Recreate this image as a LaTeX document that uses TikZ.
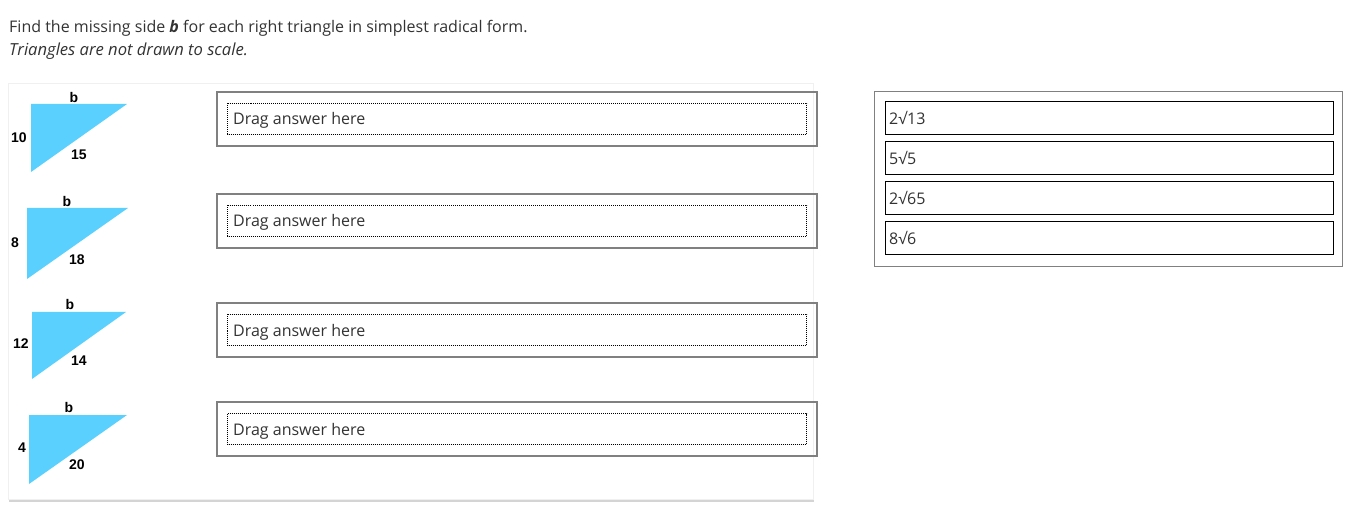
\documentclass[tikz,border=0pt]{standalone}
\usepackage{fontspec}
\setmainfont{Open Sans}
\newfontfamily\labfont{Liberation Sans}
\definecolor{tri}{RGB}{90,208,255}
\definecolor{txt}{RGB}{51,51,51}
\definecolor{boxgray}{RGB}{128,128,128}
\definecolor{cardline}{RGB}{240,240,240}
\definecolor{shadow}{RGB}{212,212,212}
\tikzset{
  body/.style={font=\fontsize{16}{19}\selectfont, text=txt, inner sep=0pt, anchor=base west},
  lab/.style={font=\labfont\bfseries\fontsize{14}{16}\selectfont, text=black, inner sep=0pt},
  outerbox/.style={draw=boxgray, line width=2pt},
  innerbox/.style={draw=black, line width=0.8pt, dash pattern=on 1pt off 1pt},
  item/.style={draw=black, line width=1pt},
  tribody/.style={fill=tri, draw=none},
}
\begin{document}
\begin{tikzpicture}[x=1pt,y=-1pt]
\useasboundingbox (0,0) rectangle (1367,518);
\fill[white] (0,0) rectangle (1367,518);
% title
\node[body] (t1) at (9,32.5) {Find the missing side \textbf{\textit{b}} for each right triangle in simplest radical form.};
\node[body, font=\fontsize{16.6}{19}\selectfont\itshape] (t2) at (9,55.5) {Triangles are not drawn to scale.};
% left card
\fill[shadow] (9,498) rectangle (814,502);
\draw[cardline, fill=white] (8,83) rectangle (813,499);
% triangle 1
\fill[tribody] (31,104) -- (127,104) -- (31,172) -- cycle;
\node[lab] (b1) at (74,97) {b};
\node[lab] (a1) at (19,138) {10};
\node[lab] (c1) at (79,155) {15};
% triangle 2
\fill[tribody] (27,208) -- (128,208) -- (27,279) -- cycle;
\node[lab] (b2) at (67,201) {b};
\node[lab] (a2) at (15,243) {8};
\node[lab] (c2) at (77,260) {18};
% triangle 3
\fill[tribody] (32,312) -- (126,312) -- (32,379) -- cycle;
\node[lab] (b3) at (70,304) {b};
\node[lab] (a3) at (21,344) {12};
\node[lab] (c3) at (79,361) {14};
% triangle 4
\fill[tribody] (29,415) -- (127,415) -- (29,484) -- cycle;
\node[lab] (b4) at (69,407) {b};
\node[lab] (a4) at (22,448) {4};
\node[lab] (c4) at (77,465) {20};
% drop boxes
\foreach \y [count=\i] in {92,194,303,402}{
  \draw[outerbox] (217,\y) rectangle (817,\y+54);
  \draw[innerbox] (227.5,\y+11.5) rectangle (806.5,\y+42.5);
  \node[body] (d\i) at (233,\y+33) {Drag answer here};
}
% answer panel
\draw[draw=boxgray, line width=1pt] (874.5,91.5) rectangle (1342.5,266.5);
\draw[item] (885,102) rectangle (1333,135);
\node[body] (e1) at (889,125) {2√13};
\draw[item] (885,142) rectangle (1333,175);
\node[body] (e2) at (889,165) {5√5};
\draw[item] (885,182) rectangle (1333,215);
\node[body] (e3) at (889,205) {2√65};
\draw[item] (885,222) rectangle (1333,255);
\node[body] (e4) at (889,245) {8√6};
\end{tikzpicture}
\end{document}
